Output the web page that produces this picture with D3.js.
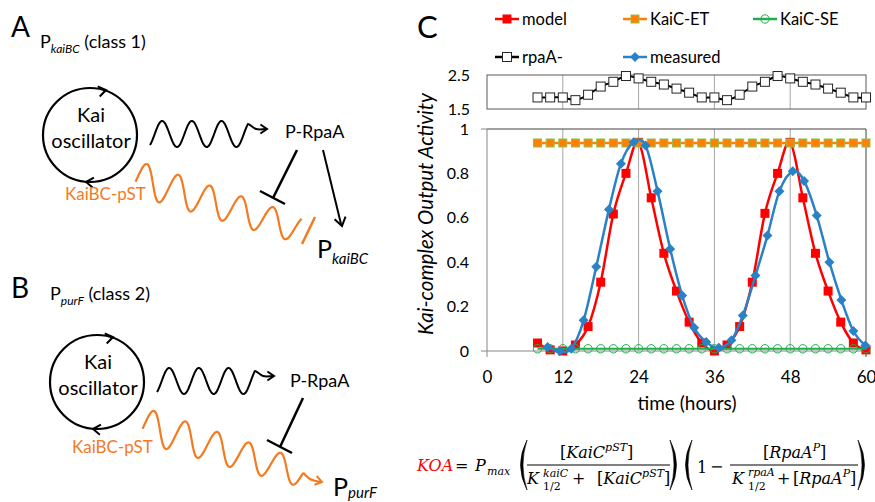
<!DOCTYPE html>
<html>
<head>
<meta charset="utf-8">
<script src="https://cdn.jsdelivr.net/npm/d3@7"></script>
<style>
  body { margin: 0; background: #fff; }
  svg { display: block; font-family: Lato, "Open Sans", sans-serif; }
</style>
</head>
<body>
<svg id="fig" width="875" height="502"></svg>
<script>
// ---- data ----
var hours = [8,10,12,14,16,18,20,22,24,26,28,30,32,34,36,38,40,42,44,46,48,50,52,54,56,58,60];
var model = [0.036,0.005,0.0,0.027,0.11,0.31,0.617,0.80,0.94,0.69,0.44,0.27,0.13,0.036,0.0,0.027,0.11,0.31,0.62,0.80,0.94,0.69,0.44,0.27,0.13,0.036,0.005];
var kaicET = [0.937,0.937,0.937,0.937,0.937,0.937,0.937,0.937,0.937,0.937,0.937,0.937,0.937,0.937,0.937,0.937,0.937,0.937,0.937,0.937,0.937,0.937,0.937,0.937,0.937,0.937,0.937];
var kaicSE = [0.01,0.01,0.01,0.01,0.01,0.01,0.01,0.01,0.01,0.01,0.01,0.01,0.01,0.01,0.01,0.01,0.01,0.01,0.01,0.01,0.01,0.01,0.01,0.01,0.01,0.01,0.01];
var rpaA = [1.84,1.84,1.84,1.76,1.92,2.16,2.3,2.47,2.40,2.3,2.22,2.1,1.98,1.84,1.84,1.76,1.92,2.16,2.3,2.47,2.40,2.3,2.22,2.1,1.98,1.84,1.84];
var measuredHours = [9.6,11.5,13.35,15.3,17.3,19.3,21.2,23.2,25.1,27.0,29.0,30.9,32.8,34.7,36.7,38.7,40.5,42.5,44.4,46.3,48.4,50.2,52.2,54.2,56.1,58.0,59.9];
var measured = [0.018,0.0,0.01,0.138,0.38,0.637,0.844,0.94,0.926,0.72,0.46,0.25,0.105,0.04,0.015,0.048,0.16,0.34,0.52,0.72,0.81,0.766,0.61,0.40,0.23,0.09,0.025];
var xTicks = [0,12,24,36,48,60];
var gridHours = [12,24,36,48];
var yTicks = [0,0.2,0.4,0.6,0.8,1];
var yTopTicks = [1.5,2.5];

var RED = "#ff0000", ORANGE = "#ff7f00", OLIVE = "#92c04e", GREEN = "#1fae4b",
    BLUE = "#2a82c6", BLK = "#000", PORANGE = "#f47a1f";

var svg = d3.select("#fig");

// ---------------- panel C ----------------
var x = d3.scaleLinear().domain([0,60]).range([487,866]);
var y = d3.scaleLinear().domain([0,1]).range([351,129]);
var yTop = d3.scaleLinear().domain([1.5,2.5]).range([109,75]);

var smooth = d3.curveCardinal.tension(0);

function marker(g, type, cx, cy){
  if(type == "red"){
    g.append("rect").attr("x", cx-4.5).attr("y", cy-4.5).attr("width", 9).attr("height", 9).attr("fill", RED);
  } else if(type == "orange"){
    g.append("rect").attr("x", cx-4).attr("y", cy-4).attr("width", 8).attr("height", 8)
      .attr("fill", ORANGE).attr("stroke", OLIVE).attr("stroke-width", 1);
  } else if(type == "green"){
    g.append("circle").attr("cx", cx).attr("cy", cy).attr("r", 4.2)
      .attr("fill", "none").attr("stroke", GREEN).attr("stroke-width", 1);
  } else if(type == "white"){
    g.append("rect").attr("x", cx-4.5).attr("y", cy-4.5).attr("width", 9).attr("height", 9)
      .attr("fill", "#fff").attr("stroke", "#262626").attr("stroke-width", 1);
  } else if(type == "blue"){
    g.append("path").attr("d", "M"+cx+","+(cy-5)+"L"+(cx+5)+","+cy+"L"+cx+","+(cy+5)+"L"+(cx-5)+","+cy+"Z")
      .attr("fill", BLUE);
  }
}

// top panel (rpaA-)
var topPanel = svg.append("g");
topPanel.selectAll(".grid").data(gridHours).enter().append("line")
  .attr("x1", function(d){return x(d);}).attr("x2", function(d){return x(d);})
  .attr("y1", yTop(2.5)).attr("y2", yTop(1.5))
  .attr("stroke", "#a6a6a6").attr("stroke-width", 1);
topPanel.append("rect").attr("x", x(0)).attr("y", yTop(2.5)).attr("width", x(60)-x(0)).attr("height", yTop(1.5)-yTop(2.5))
  .attr("fill", "none").attr("stroke", "#595959").attr("stroke-width", 1);
topPanel.append("g").attr("transform", "translate(" + x(0) + ",0)")
  .call(d3.axisLeft(yTop).tickValues(yTopTicks).tickFormat(d3.format(".1f")).tickSize(0).tickPadding(17))
  .call(function(g){ g.select(".domain").remove(); })
  .selectAll("text").attr("font-family", "Lato").attr("font-size", 16).attr("fill", "#000");

var rpaPts = hours.map(function(h,i){return [h, rpaA[i]];});
topPanel.append("path").datum(rpaPts)
  .attr("d", d3.line().x(function(d){return x(d[0]);}).y(function(d){return yTop(d[1]);}).curve(smooth))
  .attr("fill", "none").attr("stroke", BLK).attr("stroke-width", 2);
rpaPts.forEach(function(d){ marker(topPanel, "white", x(d[0]), yTop(d[1])); });

// main panel
var main = svg.append("g");
main.selectAll(".grid").data(gridHours).enter().append("line")
  .attr("x1", function(d){return x(d);}).attr("x2", function(d){return x(d);})
  .attr("y1", y(1)).attr("y2", y(0))
  .attr("stroke", "#a6a6a6").attr("stroke-width", 1);
// frame
main.append("line").attr("x1", x(0)).attr("x2", x(60)).attr("y1", y(1)).attr("y2", y(1)).attr("stroke", "#404040");
main.append("line").attr("x1", x(60)).attr("x2", x(60)).attr("y1", y(1)).attr("y2", y(0)+6).attr("stroke", "#404040");
main.append("line").attr("x1", x(0)).attr("x2", x(0)).attr("y1", y(1)).attr("y2", y(0)+6).attr("stroke", "#868686");
main.append("line").attr("x1", x(0)-6).attr("x2", x(60)).attr("y1", y(0)).attr("y2", y(0)).attr("stroke", "#868686");
main.append("line").attr("x1", x(0)-6).attr("x2", x(0)).attr("y1", y(1)).attr("y2", y(1)).attr("stroke", "#868686");

main.append("g").attr("transform", "translate(" + x(0) + ",0)")
  .call(d3.axisLeft(y).tickValues(yTicks).tickFormat(function(d){return String(d);}).tickSize(0).tickPadding(18))
  .call(function(g){ g.select(".domain").remove(); })
  .selectAll("text").attr("font-family", "Lato").attr("font-size", 16).attr("fill", "#000");
main.append("g").attr("transform", "translate(0," + y(0) + ")")
  .call(d3.axisBottom(x).tickValues(xTicks).tickSize(0).tickPadding(20))
  .call(function(g){ g.select(".domain").remove(); })
  .selectAll("text").attr("font-family", "Lato").attr("font-size", 17).attr("fill", "#000");

main.append("text").attr("x", 687).attr("y", 410).attr("text-anchor", "middle")
  .attr("font-size", 19).text("time (hours)");
main.append("text").attr("transform", "translate(433,214) rotate(-90)").attr("text-anchor", "middle")
  .attr("font-size", 20.5).attr("font-style", "italic").text("Kai-complex Output Activity");

var series = [
  {name: "model", t: hours, v: model, color: RED, w: 2.5, m: "red"},
  {name: "KaiC-ET", t: hours, v: kaicET, color: ORANGE, w: 2.5, m: "orange"},
  {name: "KaiC-SE", t: hours, v: kaicSE, color: GREEN, w: 2, m: "green"},
  {name: "measured", t: measuredHours, v: measured, color: BLUE, w: 2.5, m: "blue"}
];
series.forEach(function(s){
  var pts = s.t.map(function(h,i){return [h, s.v[i]];});
  var g = main.append("g");
  g.append("path").datum(pts)
    .attr("d", d3.line().x(function(d){return x(d[0]);}).y(function(d){return y(d[1]);}).curve(smooth))
    .attr("fill", "none").attr("stroke", s.color).attr("stroke-width", s.w);
  pts.forEach(function(d){ marker(g, s.m, x(d[0]), y(d[1])); });
});

// legend
var legendItems = [
  {name: "model", color: RED, m: "red", x: 495, y: 19},
  {name: "KaiC-ET", color: ORANGE, m: "orange", x: 623, y: 19},
  {name: "KaiC-SE", color: GREEN, m: "green", x: 753, y: 19},
  {name: "rpaA-", color: BLK, m: "white", x: 495, y: 57},
  {name: "measured", color: BLUE, m: "blue", x: 623, y: 57}
];
var leg = svg.append("g");
legendItems.forEach(function(d){
  leg.append("line").attr("x1", d.x).attr("x2", d.x+24).attr("y1", d.y).attr("y2", d.y)
    .attr("stroke", d.color).attr("stroke-width", 2.5);
  marker(leg, d.m, d.x+12, d.y);
  leg.append("text").attr("x", d.x+27).attr("y", d.y+6).attr("font-size", 16.5).text(d.name);
});

// panel letters
svg.append("text").attr("x", 11).attr("y", 37).attr("font-size", 28).text("A");
svg.append("text").attr("x", 11).attr("y", 298).attr("font-size", 28).text("B");
svg.append("text").attr("x", 417).attr("y", 38).attr("font-size", 31).text("C");

// ---------------- diagrams A & B ----------------
// wiggly "oscillation" stroke along a sloping baseline
function wavePts(x0, y0, x1, y1, periods, amp0, amp1, phase0, skew, n){
  var pts = [];
  for(var i=0;i<=n;i++){
    var s = i/n;
    var th = 2*Math.PI*periods*s + phase0;
    var bx = x0 + (x1-x0)*s, by = y0 + (y1-y0)*s;
    var a = amp0 + (amp1-amp0)*s;
    pts.push([bx + skew*Math.sin(th), by - a*Math.sin(th)]);
  }
  return pts;
}
var lineGen = d3.line().curve(d3.curveCatmullRom);

function chevron(g, tx, ty, ang, color, len){
  len = len || 8;
  var a1 = ang + Math.PI - 0.6, a2 = ang + Math.PI + 0.6;
  g.append("path")
    .attr("d", "M"+(tx+len*Math.cos(a1))+","+(ty+len*Math.sin(a1))+"L"+tx+","+ty+"L"+(tx+len*Math.cos(a2))+","+(ty+len*Math.sin(a2)))
    .attr("fill", "none").attr("stroke", color).attr("stroke-width", 2).attr("stroke-linejoin", "miter");
}

function promoterLabel(g, px, py, size, sub, rest, subSize, drop){
  var t = g.append("text").attr("x", px).attr("y", py).attr("font-size", size);
  t.append("tspan").text("P");
  t.append("tspan").attr("font-size", subSize).attr("font-style", "italic").attr("dy", drop).text(sub);
  if(rest) t.append("tspan").attr("dy", -drop).text(rest);
}

function diagram(o){
  var g = svg.append("g");
  promoterLabel(g, o.titleX, o.titleY, 18, o.sub, " (class " + o.cls + ")", 12, 4.5);
  // oscillator circle
  g.append("circle").attr("cx", o.cx).attr("cy", o.cy).attr("r", 47)
    .attr("fill", "none").attr("stroke", BLK).attr("stroke-width", 2.2);
  chevron(g, o.cx+16, o.cy-45, -0.2, BLK, 9);
  chevron(g, o.cx-4, o.cy+47, Math.PI+0.1, BLK, 9);
  g.append("text").attr("x", o.cx+1).attr("y", o.cy-13).attr("text-anchor", "middle").attr("font-size", 20).text("Kai");
  g.append("text").attr("x", o.cx+1).attr("y", o.cy+13).attr("text-anchor", "middle").attr("font-size", 20).text("oscillator");
  // black wave
  var bw = wavePts(o.cx+60, o.cy-1, o.cx+158, o.cy-1, 3.3, 13, 13, -1.0, 0, 160);
  bw.push([o.cx+166, o.cy-6], [o.cx+176, o.cy-6]);
  g.append("path").attr("d", lineGen(bw)).attr("fill", "none").attr("stroke", BLK).attr("stroke-width", 2);
  chevron(g, o.cx+177, o.cy-6, 0, BLK, 8);
  g.append("text").attr("x", o.rx).attr("y", o.ry).attr("font-size", 18).text("P-RpaA");
  // orange wave
  var ow = wavePts(o.ox0, o.oy0, o.ox1, o.oy1, o.per, 17, 13, -0.22, 2, 300);
  g.append("path").attr("d", lineGen(ow)).attr("fill", "none").attr("stroke", PORANGE).attr("stroke-width", 2.2);
  g.append("text").attr("x", o.kx).attr("y", o.ky).attr("font-size", 17).attr("fill", PORANGE).text("KaiBC-pST");
  // inhibition from P-RpaA
  g.append("line").attr("x1", o.i1[0]).attr("y1", o.i1[1]).attr("x2", o.i2[0]).attr("y2", o.i2[1])
    .attr("stroke", BLK).attr("stroke-width", 2.5);
  g.append("line").attr("x1", o.b1[0]).attr("y1", o.b1[1]).attr("x2", o.b2[0]).attr("y2", o.b2[1])
    .attr("stroke", BLK).attr("stroke-width", 2.5);
  promoterLabel(g, o.px, o.py, 25, o.sub, null, 15, o.drop);
  return {g: g, ow: ow};
}

var dA = diagram({cx: 90, cy: 135, titleX: 40, titleY: 48, sub: "kaiBC", cls: 1,
  rx: 285, ry: 138, ox0: 136, oy0: 178, ox1: 300, oy1: 230, per: 5.2, kx: 65, ky: 200,
  i1: [297,150], i2: [273,198], b1: [260,191], b2: [285,204], px: 317, py: 258, drop: 6});
// activating arrow to PkaiBC
dA.g.append("line").attr("x1", 323).attr("y1", 150).attr("x2", 341).attr("y2", 224)
  .attr("stroke", BLK).attr("stroke-width", 2);
chevron(dA.g, 342, 226, Math.atan2(74, 18), BLK, 10);
// orange blunt end
dA.g.append("line").attr("x1", 302).attr("y1", 244).attr("x2", 315).attr("y2", 217)
  .attr("stroke", PORANGE).attr("stroke-width", 2.5);

var dB = diagram({cx: 97, cy: 382, titleX: 50, titleY: 300, sub: "purF", cls: 2,
  rx: 290, ry: 387, ox0: 143, oy0: 425, ox1: 303, oy1: 474, per: 5.05, kx: 72, ky: 453,
  i1: [303,398], i2: [280,447], b1: [267,440], b2: [292,453], px: 333, py: 496, drop: 2});
// orange arrow into PpurF
var bEnd = dB.ow[dB.ow.length-1];
dB.g.append("path").attr("d", lineGen([bEnd,[310,479],[316,481],[321,482]]))
  .attr("fill", "none").attr("stroke", PORANGE).attr("stroke-width", 2.2);
chevron(dB.g, 322, 482, 0.25, PORANGE, 8);

// ---------------- equation ----------------
var eq = svg.append("g").attr("font-family", "'DejaVu Serif', serif").attr("font-size", 16);
function it(parent, str, xx, yy, size){
  return parent.append("text").attr("x", xx).attr("y", yy).attr("font-style", "italic")
    .attr("font-size", size || 16).text(str);
}
it(eq, "KOA", 417, 471).attr("fill", RED);
eq.append("text").attr("x", 455).attr("y", 471).text("=");
it(eq, "P", 475, 471);
it(eq, "max", 487, 475, 11);

function paren(px, left){
  var d = left ? "M"+(px+9)+",440 Q"+(px-4)+",465 "+(px+9)+",490 Q"+(px+1)+",465 "+(px+9)+",440Z"
               : "M"+px+",440 Q"+(px+13)+",465 "+px+",490 Q"+(px+8)+",465 "+px+",440Z";
  eq.append("path").attr("d", d).attr("fill", BLK).attr("stroke", BLK).attr("stroke-width", 0.6);
}
function bracketed(xx, yy, name, sup){
  var t = eq.append("text").attr("x", xx).attr("y", yy);
  t.append("tspan").text("[");
  t.append("tspan").attr("font-style", "italic").text(name);
  t.append("tspan").attr("font-style", "italic").attr("font-size", 11).attr("dy", -7).text(sup);
  t.append("tspan").attr("dy", 7).text("]");
  return t;
}
paren(518, true);
bracketed(560, 458, "KaiC", "pST");
eq.append("line").attr("x1", 527).attr("x2", 670).attr("y1", 465).attr("y2", 465).attr("stroke", BLK).attr("stroke-width", 1);
it(eq, "K", 527, 484);
it(eq, "kaiC", 543, 477, 11);
eq.append("text").attr("x", 543).attr("y", 490).attr("font-size", 11).text("1/2");
eq.append("text").attr("x", 572).attr("y", 484).text("+");
bracketed(597, 484, "KaiC", "pST");
paren(670, false);

paren(683, true);
eq.append("text").attr("x", 697).attr("y", 473).text("1");
eq.append("text").attr("x", 710).attr("y", 472).text("\u2212");
bracketed(763, 458, "RpaA", "P");
eq.append("line").attr("x1", 730).attr("x2", 858).attr("y1", 465).attr("y2", 465).attr("stroke", BLK).attr("stroke-width", 1);
it(eq, "K", 732, 484);
it(eq, "rpaA", 748, 476, 11);
eq.append("text").attr("x", 748).attr("y", 490).attr("font-size", 11).text("1/2");
eq.append("text").attr("x", 777).attr("y", 484).text("+");
bracketed(793, 484, "RpaA", "P");
paren(858, false);
</script>
</body>
</html>
